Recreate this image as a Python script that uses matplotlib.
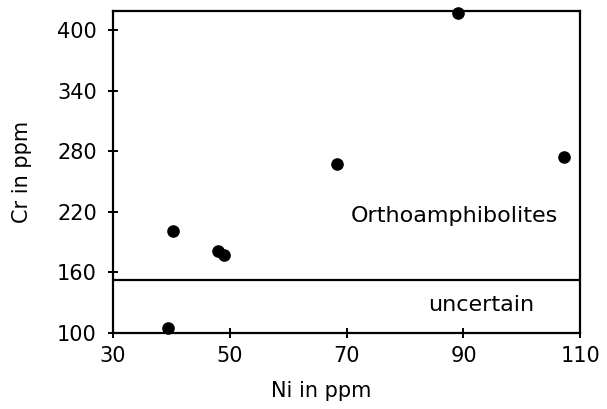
import matplotlib
matplotlib.use("Agg")
import matplotlib.pyplot as plt

# Ni and Cr concentrations (ppm) of the samples
ni_ppm = [39.4, 40.3, 48.0, 49.0, 68.4, 89.0, 107.2]
cr_ppm = [105, 201, 181, 177, 267, 417, 274]

# Cr boundary between the orthoamphibolite field and the uncertain field
cr_boundary = 152

x_ticks = [30, 50, 70, 90, 110]
y_ticks = [100, 160, 220, 280, 340, 400]

plt.rcParams["font.family"] = ["DejaVu Sans"]

fig = plt.figure(figsize=(6.07, 4.09), dpi=100)
ax = fig.add_axes([0.186, 0.186, 0.770, 0.787])

ax.scatter(ni_ppm, cr_ppm, s=65, color="black", zorder=3, clip_on=False)
ax.axhline(cr_boundary, color="black", lw=1.6)

ax.set_xlim(30, 110)
ax.set_ylim(100, 419)
ax.set_xticks(x_ticks)
ax.set_yticks(y_ticks)
ax.tick_params(direction="inout", length=7, width=1.4, labelsize=15)
ax.tick_params(axis="y", pad=8)
ax.tick_params(axis="x", pad=6)

for s in ax.spines.values():
    s.set_linewidth(1.6)

ax.text(88.5, 216, "Orthoamphibolites", ha="center", va="center", fontsize=16)
ax.text(93, 128, "uncertain", ha="center", va="center", fontsize=16)

ax.set_xlabel("Ni in ppm", fontsize=15)
ax.set_ylabel("Cr in ppm", fontsize=15)
ax.xaxis.set_label_coords(0.445, -0.15)
ax.yaxis.set_label_coords(-0.174, 0.5)

fig.savefig("out.png", dpi=100)
